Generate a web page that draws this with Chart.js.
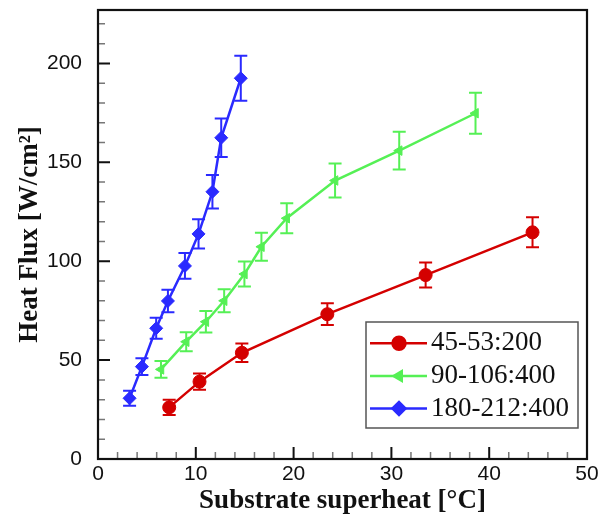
<!DOCTYPE html>
<html><head><meta charset="utf-8">
<script src="https://cdn.jsdelivr.net/npm/chart.js@4"></script>
<style>html,body{margin:0;padding:0;background:#fff}#wrap{width:603px;height:521px}</style>
</head><body><div id="wrap"><canvas id="c" width="603" height="521"></canvas></div>
<script>
// ---- data ----
const seriesLabels = ['45-53:200', '90-106:400', '180-212:400'];
const redX   = [7.28, 10.38, 14.71, 23.45, 33.5, 44.43];
const redY   = [26.1, 39.1, 53.7, 73.2, 93.0, 114.6];
const redErr = [3.8, 4.1, 4.7, 5.5, 6.3, 7.6];
const greenX   = [6.44, 9.02, 11.03, 12.9, 14.97, 16.71, 19.3, 24.24, 30.8, 38.6];
const greenY   = [45.3, 59.3, 69.4, 80.0, 93.5, 107.3, 121.7, 140.8, 155.9, 174.8];
const greenErr = [4.2, 4.8, 5.4, 5.8, 6.3, 7.1, 7.6, 8.6, 9.6, 10.4];
const blueX   = [3.23, 4.49, 5.95, 7.15, 8.89, 10.28, 11.7, 12.6, 14.6];
const blueY   = [30.7, 46.7, 66.1, 79.9, 97.6, 113.8, 135.1, 162.4, 192.5];
const blueErr = [3.8, 4.2, 5.3, 5.7, 6.5, 7.4, 8.5, 9.7, 11.4];
const xTicks = [0, 10, 20, 30, 40, 50];
const yTicks = [0, 50, 100, 150, 200];
const xMinorStep = 2, yMinorStep = 10;
const xMax = 50, yMax = 227;
const xTitle = 'Substrate superheat [°C]';
const yTitle = 'Heat Flux [W/cm²]';

const RED = '#d40000', GREEN = '#55f055', BLUE = '#2a2aff';
const pts = (xs, ys) => xs.map((x, i) => ({x: x, y: ys[i]}));

const errorBars = {
  id: 'errorBars',
  beforeDatasetsDraw(chart) {
    const ctx = chart.ctx, xs = chart.scales.x, ys = chart.scales.y;
    chart.data.datasets.forEach(ds => {
      ctx.save();
      ctx.strokeStyle = ds.borderColor; ctx.lineWidth = 2;
      ds.data.forEach((p, i) => {
        const e = ds.err[i];
        const px = xs.getPixelForValue(p.x);
        const y1 = ys.getPixelForValue(p.y - e), y2 = ys.getPixelForValue(p.y + e);
        const hw = 6.5;
        ctx.beginPath();
        ctx.moveTo(px, y1); ctx.lineTo(px, y2);
        ctx.moveTo(px - hw, y1); ctx.lineTo(px + hw, y1);
        ctx.moveTo(px - hw, y2); ctx.lineTo(px + hw, y2);
        ctx.stroke();
      });
      ctx.restore();
    });
  }
};

const frame = {
  id: 'frame',
  afterDraw(chart) {
    const ctx = chart.ctx, xs = chart.scales.x, ys = chart.scales.y;
    const {left, right, top, bottom} = chart.chartArea;
    ctx.save();
    // minor ticks
    ctx.strokeStyle = '#777'; ctx.lineWidth = 1.5;
    ctx.beginPath();
    for (let v = 0; v <= xMax; v += xMinorStep) {
      if (xTicks.includes(v)) continue;
      const px = xs.getPixelForValue(v);
      ctx.moveTo(px, bottom); ctx.lineTo(px, bottom - 7);
    }
    for (let v = 0; v <= yMax; v += yMinorStep) {
      if (yTicks.includes(v)) continue;
      const py = ys.getPixelForValue(v);
      ctx.moveTo(left, py); ctx.lineTo(left + 7, py);
    }
    ctx.stroke();
    // major ticks
    ctx.strokeStyle = '#111'; ctx.lineWidth = 2;
    ctx.beginPath();
    xTicks.forEach(v => { const px = xs.getPixelForValue(v); ctx.moveTo(px, bottom); ctx.lineTo(px, bottom - 12); });
    yTicks.forEach(v => { const py = ys.getPixelForValue(v); ctx.moveTo(left, py); ctx.lineTo(left + 12, py); });
    ctx.stroke();
    // frame
    ctx.strokeStyle = '#111'; ctx.lineWidth = 2.2;
    ctx.strokeRect(left, top, right - left, bottom - top);
    // legend
    const lx0 = 366, ly0 = 322, lx1 = 578, ly1 = 428;
    ctx.fillStyle = '#fff';
    ctx.fillRect(lx0, ly0, lx1 - lx0, ly1 - ly0);
    ctx.strokeStyle = '#555'; ctx.lineWidth = 1.5;
    ctx.strokeRect(lx0, ly0, lx1 - lx0, ly1 - ly0);
    const rowY = [343.3, 376, 408.5];
    chart.data.datasets.forEach((ds, i) => {
      const y = rowY[i];
      ctx.strokeStyle = ds.borderColor; ctx.fillStyle = ds.backgroundColor; ctx.lineWidth = 2.5;
      ctx.beginPath(); ctx.moveTo(370, y); ctx.lineTo(427, y); ctx.stroke();
      Chart.helpers.drawPoint(ctx, {pointStyle: ds.pointStyle, rotation: ds.pointRotation || 0, radius: ds.pointRadius, borderWidth: 1}, 399, y);
      ctx.fillStyle = '#111';
      ctx.font = '27px "Liberation Serif"';
      ctx.textBaseline = 'middle'; ctx.textAlign = 'left';
      ctx.fillText(ds.label, 431, y);
    });
    ctx.restore();
  }
};

new Chart(document.getElementById('c'), {
  type: 'line',
  data: {
    datasets: [
      {label: seriesLabels[0], data: pts(redX, redY), err: redErr, borderColor: RED, backgroundColor: RED,
       pointStyle: 'circle', pointRadius: 6.5, pointBorderWidth: 1, borderWidth: 2.5},
      {label: seriesLabels[1], data: pts(greenX, greenY), err: greenErr, borderColor: GREEN, backgroundColor: GREEN,
       pointStyle: 'triangle', pointRotation: -90, pointRadius: 5.5, pointBorderWidth: 1, borderWidth: 2.5},
      {label: seriesLabels[2], data: pts(blueX, blueY), err: blueErr, borderColor: BLUE, backgroundColor: BLUE,
       pointStyle: 'rectRot', pointRadius: 6.5, pointBorderWidth: 1, borderWidth: 2.5}
    ]
  },
  options: {
    responsive: false, animation: false, devicePixelRatio: 1,
    layout: {padding: {top: 10, right: 16, left: 0, bottom: 0}},
    plugins: {legend: {display: false}, tooltip: {enabled: false}},
    scales: {
      x: {
        type: 'linear', min: 0, max: xMax,
        afterFit(s) { s.height = 62; s.paddingLeft = 0; s.paddingRight = 0; },
        grid: {display: false, drawTicks: false},
        border: {display: false},
        ticks: {stepSize: 10, includeBounds: false, padding: 3, color: '#111', autoSkip: false, maxRotation: 0,
                font: {family: '"Liberation Sans"', size: 21},
                callback: v => xTicks.includes(v) ? String(v) : ''},
        title: {display: true, text: xTitle, color: '#111', padding: {top: 0, bottom: 4},
                font: {family: '"Liberation Serif"', size: 27, weight: 'bold', lineHeight: 1.2}}
      },
      y: {
        type: 'linear', min: 0, max: yMax,
        afterFit(s) { s.width = 98; s.paddingTop = 0; s.paddingBottom = 0; },
        grid: {display: false, drawTicks: false},
        border: {display: false},
        ticks: {stepSize: 50, includeBounds: false, padding: 16, color: '#111', autoSkip: false,
                font: {family: '"Liberation Sans"', size: 21},
                callback: v => yTicks.includes(v) ? String(v) : ''},
        title: {display: true, text: yTitle, color: '#111', padding: {top: 14, bottom: 0},
                font: {family: '"Liberation Serif"', size: 27, weight: 'bold', lineHeight: 1.2}}
      }
    }
  },
  plugins: [errorBars, frame]
});
</script></body></html>
